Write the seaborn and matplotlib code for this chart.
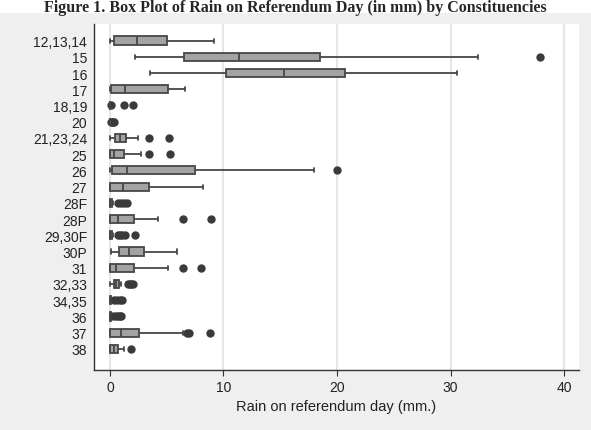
import numpy as np
import pandas as pd
import matplotlib
matplotlib.use("Agg")
import matplotlib.pyplot as plt
from matplotlib.patches import Rectangle
import seaborn as sns

# ---- data (mm of rain) ----
categories = ["12,13,14", "15", "16", "17", "18,19", "20", "21,23,24", "25", "26", "27",
              "28F", "28P", "29,30F", "30P", "31", "32,33", "34,35", "36", "37", "38"]
whisk_lo = [0.0, 2.2, 3.55, 0.0, 0.0, 0.0, 0.0, 0.0, 0.0, 0.0,
            0.0, 0.0, 0.0, 0.1, 0.0, 0.0, 0.0, 0.0, 0.0, 0.0]
q1 = [0.38, 6.55, 10.2, 0.1, 0.0, 0.0, 0.45, 0.0, 0.2, 0.0,
      0.0, 0.0, 0.0, 0.8, 0.0, 0.35, 0.0, 0.0, 0.0, 0.0]
median = [2.38, 11.4, 15.3, 1.3, 0.0, 0.0, 0.9, 0.4, 1.5, 1.15,
          0.05, 0.75, 0.05, 1.7, 0.55, 0.55, 0.02, 0.02, 1.0, 0.35]
q3 = [5.0, 18.5, 20.7, 5.15, 0.0, 0.0, 1.4, 1.25, 7.5, 3.45,
      0.2, 2.15, 0.2, 3.0, 2.1, 0.8, 0.1, 0.1, 2.6, 0.7]
whisk_hi = [9.16, 32.4, 30.6, 6.6, 0.0, 0.0, 2.45, 2.7, 18.0, 8.2,
            0.3, 4.25, 0.3, 5.9, 5.15, 1.0, 0.15, 0.15, 6.4, 1.25]
outliers = [[], [37.9], [], [], [0.1, 1.2, 2.0], [0.1, 0.2, 0.3, 0.4],
            [3.4, 5.2], [3.4, 5.3], [20.0], [],
            [0.75, 1.0, 1.25, 1.5], [6.4, 8.9], [0.7, 0.9, 1.1, 1.3, 2.2], [], [6.4, 8.0],
            [1.6, 1.75, 1.9, 2.0], [0.35, 0.6, 0.85, 1.1], [0.3, 0.5, 0.7, 0.9, 1.0],
            [6.75, 6.95, 8.85], [1.9]]

# Sample whose quartiles/whiskers/outliers reproduce the five-number summary above
rows = []
for c, lo, a, m, b, hi, out in zip(categories, whisk_lo, q1, median, q3, whisk_hi, outliers):
    k = len(out) + 1
    vals = [lo] + [a] * k + [m] * k + [b] * k + [hi] * (k - len(out)) + list(out)
    rows += [(c, v) for v in vals]
df = pd.DataFrame(rows, columns=["cat", "rain"])

sns.set_theme(style="white")
plt.rcParams["font.family"] = ["Liberation Sans", "DejaVu Sans"]

fig = plt.figure(figsize=(5.91, 4.31), dpi=100, facecolor="white")
fig.patches.append(Rectangle((0, 0), 1, 1 - 14 / 431, transform=fig.transFigure,
                             facecolor="#efefef", edgecolor="none", zorder=-10))
ax = fig.add_axes([94 / 591, 1 - 371 / 431, (579 - 94) / 591, (371 - 24.5) / 431])
ax.set_facecolor("white")

sns.boxplot(data=df, x="rain", y="cat", order=categories, orient="h", ax=ax,
            color="#a3a3a3", linecolor="#474747", linewidth=1.3, width=0.5,
            saturation=1, fliersize=5,
            flierprops=dict(marker="o", markerfacecolor="#3a3a3a",
                            markeredgecolor="#3a3a3a"))

ax.set_xlim(-1.4, 41.3)
ax.set_ylim(19 + 1.3, -1.05)
ax.set_xticks([0, 10, 20, 30, 40])
ax.grid(axis="x", color="#e6e6e6", linewidth=1.5, zorder=0)
ax.set_axisbelow(True)
for s in ["top", "right"]:
    ax.spines[s].set_visible(False)
for s in ["left", "bottom"]:
    ax.spines[s].set_color("#333333")
    ax.spines[s].set_linewidth(1.0)
ax.tick_params(axis="x", bottom=True, length=4, width=0.8, color="#333333",
               labelsize=10, labelcolor="#222222", pad=3)
ax.tick_params(axis="y", left=False, length=0, labelsize=10, labelcolor="#222222", pad=5)
ax.set_ylabel("")
ax.set_xlabel("Rain on referendum day (mm.)", fontsize=10.5, color="#222222", labelpad=4)

fig.text(0.5, 1 - 11.5 / 431,
         "Figure 1. Box Plot of Rain on Referendum Day (in mm) by Constituencies",
         ha="center", va="baseline", fontsize=11.5, fontweight="bold",
         family=["Liberation Serif", "DejaVu Serif"])

fig.savefig("out.png", dpi=100, facecolor=fig.get_facecolor())
